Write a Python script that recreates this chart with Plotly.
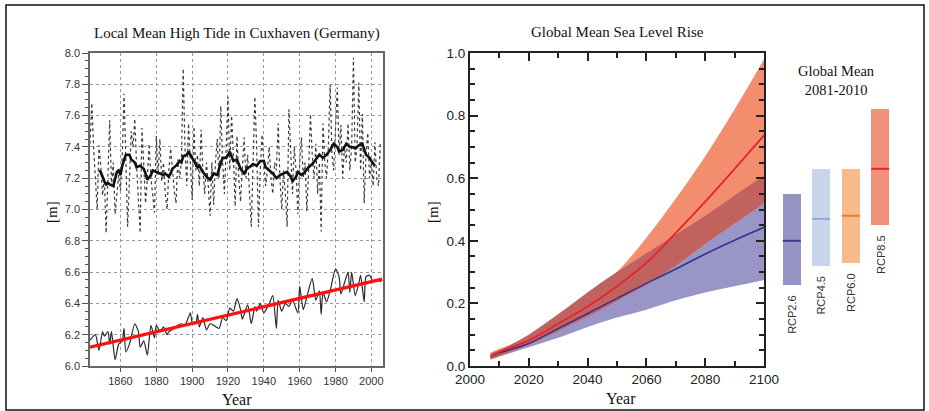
import plotly.graph_objects as go

# ---------------- Cuxhaven tide gauge (left panel) ----------------
mhw_years = list(range(1843, 2006))
mhw_values = [
    7.42, 7.68, 7.40, 7.15, 7.00, 7.41, 7.28, 7.09, 7.20, 6.85,
    7.25, 7.57, 7.15, 7.30, 6.97, 7.10, 7.22, 7.12, 7.35, 7.74,
    7.30, 6.89, 7.18, 7.50, 7.40, 7.58, 7.28, 7.05, 6.85, 7.52,
    7.25, 7.04, 7.20, 7.42, 7.20, 7.10, 6.98, 7.47, 7.22, 7.45,
    7.18, 7.30, 7.10, 7.00, 7.25, 7.39, 7.23, 7.12, 7.04, 7.32,
    7.20, 7.30, 7.90, 7.40, 7.15, 7.55, 7.30, 7.06, 7.53, 7.25,
    7.35, 7.15, 7.51, 7.25, 7.10, 7.30, 7.15, 6.96, 7.30, 7.03,
    7.30, 7.45, 7.20, 7.66, 7.30, 7.10, 7.40, 7.72, 7.25, 7.60,
    7.35, 7.02, 7.47, 7.20, 7.05, 7.30, 7.46, 7.20, 7.35, 7.10,
    6.89, 7.30, 7.72, 7.40, 6.89, 7.25, 7.48, 7.30, 7.15, 7.25,
    7.40, 7.20, 7.10, 7.30, 7.25, 7.55, 7.20, 7.00, 7.25, 7.10,
    6.89, 7.64, 7.30, 7.10, 7.40, 7.25, 6.97, 7.30, 7.46, 7.20,
    7.30, 6.99, 7.25, 7.61, 7.35, 7.20, 7.42, 7.10, 7.30, 6.86,
    7.55, 7.30, 7.20, 7.40, 7.80, 7.35, 7.25, 7.55, 7.78, 7.35,
    7.54, 7.20, 7.40, 7.30, 7.55, 7.25, 7.40, 7.97, 7.30, 7.40,
    7.81, 7.25, 7.61, 7.04, 7.35, 7.49, 7.20, 7.30, 7.15, 7.43,
    7.20, 7.15, 7.43,
]

mean_years = [
    1848, 1849, 1851, 1852, 1853, 1854, 1856, 1857, 1858, 1859, 1860, 1861,
    1863, 1865, 1866, 1868, 1869, 1871, 1873, 1874, 1875, 1877, 1878, 1880,
    1882, 1884, 1885, 1887, 1888, 1889, 1891, 1893, 1894, 1895, 1897, 1898,
    1899, 1901, 1903, 1904, 1906, 1908, 1910, 1912, 1914, 1915, 1917, 1919,
    1921, 1923, 1925, 1927, 1929, 1931, 1932, 1934, 1936, 1938, 1940, 1941,
    1943, 1945, 1947, 1949, 1951, 1953, 1955, 1956, 1958, 1959, 1961, 1963,
    1965, 1967, 1969, 1971, 1973, 1975, 1977, 1979, 1981, 1982, 1984, 1986,
    1988, 1989, 1991, 1993, 1995, 1997, 1999, 2000, 2002,
]
mean_values = [
    7.25, 7.24, 7.18, 7.16, 7.17, 7.16, 7.15, 7.19, 7.24, 7.25, 7.22, 7.28,
    7.35, 7.35, 7.32, 7.30, 7.27, 7.28, 7.26, 7.23, 7.19, 7.22, 7.25, 7.24,
    7.23, 7.22, 7.23, 7.21, 7.23, 7.26, 7.28, 7.31, 7.30, 7.34, 7.35, 7.37,
    7.35, 7.31, 7.27, 7.28, 7.24, 7.21, 7.19, 7.23, 7.22, 7.26, 7.33, 7.33,
    7.37, 7.31, 7.32, 7.26, 7.23, 7.27, 7.27, 7.29, 7.28, 7.31, 7.31, 7.27,
    7.25, 7.23, 7.20, 7.22, 7.23, 7.24, 7.21, 7.18, 7.21, 7.24, 7.22, 7.24,
    7.27, 7.29, 7.32, 7.35, 7.33, 7.35, 7.38, 7.42, 7.40, 7.37, 7.38, 7.42,
    7.40, 7.40, 7.39, 7.41, 7.42, 7.35, 7.33, 7.31, 7.28,
]

msl_years = [
    1843, 1846, 1848, 1850, 1851, 1853, 1854, 1855, 1857, 1859, 1861, 1862,
    1863, 1865, 1868, 1870, 1871, 1873, 1875, 1877, 1879, 1880, 1882, 1884,
    1886, 1887, 1890, 1892, 1894, 1896, 1899, 1900, 1902, 1903, 1904, 1906,
    1908, 1910, 1912, 1915, 1917, 1919, 1921, 1923, 1925, 1927, 1928, 1931,
    1933, 1935, 1936, 1938, 1940, 1943, 1945, 1947, 1948, 1950, 1952, 1954,
    1956, 1959, 1960, 1962, 1964, 1967, 1969, 1971, 1972, 1973, 1975, 1977,
    1980, 1982, 1983, 1985, 1987, 1988, 1989, 1991, 1993, 1994, 1996, 1997,
    1999, 2001, 2003, 2005, 2006,
]
msl_values = [
    6.165, 6.20, 6.10, 6.22, 6.19, 6.22, 6.14, 6.22, 6.04, 6.14, 6.16, 6.24,
    6.09, 6.14, 6.27, 6.22, 6.12, 6.16, 6.07, 6.26, 6.18, 6.26, 6.22, 6.25,
    6.20, 6.22, 6.24, 6.26, 6.27, 6.26, 6.34, 6.28, 6.27, 6.33, 6.25, 6.31,
    6.23, 6.27, 6.26, 6.24, 6.31, 6.29, 6.37, 6.35, 6.43, 6.36, 6.30, 6.39,
    6.27, 6.38, 6.35, 6.40, 6.34, 6.40, 6.45, 6.24, 6.42, 6.35, 6.40, 6.38,
    6.42, 6.34, 6.51, 6.36, 6.44, 6.56, 6.42, 6.48, 6.33, 6.47, 6.41, 6.48,
    6.62, 6.57, 6.46, 6.53, 6.60, 6.47, 6.60, 6.45, 6.53, 6.58, 6.41, 6.57,
    6.58, 6.54, 6.55, 6.54, 6.55,
]

trend_years = [1843, 2006]
trend_values = [6.12, 6.555]

# ---------------- Global mean sea level projections (right panel) ----------------
proj_years = [2007, 2010, 2020, 2030, 2040, 2050, 2060, 2070, 2080, 2090, 2100]
rcp85_mid = [0.03, 0.045, 0.082, 0.135, 0.19, 0.255, 0.33, 0.425, 0.525, 0.63, 0.737]
rcp85_hi = [0.042, 0.055, 0.09, 0.148, 0.218, 0.30, 0.41, 0.535, 0.67, 0.82, 0.98]
rcp85_lo = [0.022, 0.032, 0.068, 0.112, 0.158, 0.208, 0.26, 0.32, 0.39, 0.455, 0.52]
rcp26_mid = [0.03, 0.042, 0.072, 0.12, 0.168, 0.216, 0.264, 0.31, 0.358, 0.402, 0.443]
rcp26_hi = [0.04, 0.05, 0.10, 0.165, 0.235, 0.30, 0.36, 0.42, 0.48, 0.545, 0.608]
rcp26_lo = [0.02, 0.03, 0.06, 0.09, 0.125, 0.155, 0.18, 0.21, 0.235, 0.255, 0.275]

# Likely ranges of global mean rise for 2081-2100, per scenario
scenarios = ["RCP2.6", "RCP4.5", "RCP6.0", "RCP8.5"]
range_mid = [0.40, 0.47, 0.48, 0.63]
range_lo = [0.26, 0.32, 0.33, 0.45]
range_hi = [0.55, 0.63, 0.63, 0.82]
bar_colors = ["#9792c4", "#c9d5eb", "#f8ba8c", "#f2917a"]
mid_colors = ["#3d3b8f", "#8eabdc", "#ee7b2b", "#e3262a"]

W, H = 929, 411


def px(x):
    return x / W


def py(y):
    return 1 - y / H


fig = go.Figure()

# left panel series
fig.add_trace(go.Scatter(x=mhw_years, y=mhw_values, mode="lines",
                         line=dict(color="#3a3a3a", width=1.2, dash="dot"),
                         xaxis="x", yaxis="y", showlegend=False))
fig.add_trace(go.Scatter(x=mean_years, y=mean_values, mode="lines",
                         line=dict(color="#111111", width=2.6),
                         xaxis="x", yaxis="y", showlegend=False))
fig.add_trace(go.Scatter(x=msl_years, y=msl_values, mode="lines",
                         line=dict(color="#2a2a2a", width=1.2, shape="spline", smoothing=0.6),
                         xaxis="x", yaxis="y", showlegend=False))
fig.add_trace(go.Scatter(x=trend_years, y=trend_values, mode="lines",
                         line=dict(color="#ff1010", width=3.2),
                         xaxis="x", yaxis="y", showlegend=False))

# right panel bands
purple = "#9a95c7"
salmon = "#f28e6e"
overlap = "#c2625f"


def band(lo, hi, color):
    fig.add_trace(go.Scatter(x=proj_years, y=lo, mode="lines",
                             line=dict(width=0, shape="spline"),
                             xaxis="x2", yaxis="y2", showlegend=False, hoverinfo="skip"))
    fig.add_trace(go.Scatter(x=proj_years, y=hi, mode="lines", fill="tonexty",
                             fillcolor=color, line=dict(width=0, shape="spline"),
                             xaxis="x2", yaxis="y2", showlegend=False, hoverinfo="skip"))


band(rcp26_lo, rcp26_hi, purple)
band(rcp85_lo, rcp85_hi, salmon)
band(rcp85_lo, rcp26_hi, overlap)

fig.add_trace(go.Scatter(x=proj_years, y=rcp26_mid, mode="lines",
                         line=dict(color="#35358f", width=1.6, shape="spline"),
                         xaxis="x2", yaxis="y2", showlegend=False))
fig.add_trace(go.Scatter(x=proj_years, y=rcp85_mid, mode="lines",
                         line=dict(color="#e8242a", width=1.8, shape="spline"),
                         xaxis="x2", yaxis="y2", showlegend=False))

# scenario range bars
idx = list(range(len(scenarios)))
fig.add_trace(go.Bar(x=idx, y=[h - l for h, l in zip(range_hi, range_lo)], base=range_lo,
                     marker=dict(color=bar_colors, line=dict(width=0)), width=0.61,
                     xaxis="x3", yaxis="y2", showlegend=False))
for i, (m, c) in enumerate(zip(range_mid, mid_colors)):
    fig.add_trace(go.Scatter(x=[i - 0.305, i + 0.305], y=[m, m], mode="lines",
                             line=dict(color=c, width=2), xaxis="x3", yaxis="y2",
                             showlegend=False))

annotations = []
for i, (name, lo) in enumerate(zip(scenarios, range_lo)):
    annotations.append(dict(x=i, y=lo, xref="x3", yref="y2", text=name, showarrow=False,
                            textangle=-90, xanchor="center", yanchor="top", yshift=-8,
                            font=dict(family="Liberation Sans, Arial", size=11, color="#333333")))

serif = "Liberation Serif, Times New Roman, serif"
sans = "Liberation Sans, Arial, sans-serif"


def label(text, x, y, size, angle=0):
    annotations.append(dict(x=px(x), y=py(y), xref="paper", yref="paper", text=text,
                            showarrow=False, xanchor="center", yanchor="middle",
                            textangle=angle, font=dict(family=serif, size=size, color="#111111")))


label("Local Mean High Tide in Cuxhaven (Germany)", 237, 33, 15)
label("Year", 237, 399, 16)
label("[m]", 52, 212, 15, -90)
label("Global Mean Sea Level Rise", 617, 32, 15)
label("Year", 621, 398, 16)
label("[m]", 433, 212, 15, -90)
label("Global Mean<br>2081-2010", 836, 81, 14.5)

fig.update_layout(
    width=W, height=H, margin=dict(l=0, r=0, t=0, b=0),
    paper_bgcolor="white", plot_bgcolor="white",
    annotations=annotations, bargap=0,
    shapes=[dict(type="rect", xref="paper", yref="paper", x0=px(6), x1=px(924),
                 y0=py(410), y1=py(5), line=dict(color="#111111", width=1.5))],
    xaxis=dict(domain=[px(90), px(383)], range=[1843, 2006.5], anchor="y",
               automargin=False,
               tickvals=list(range(1860, 2001, 20)), ticks="outside", ticklen=4,
               tickcolor="#555555", showline=True, linecolor="#666666", linewidth=1.5,
               mirror=True, showgrid=True, gridcolor="#9a9a9a", griddash="dot",
               gridwidth=1, zeroline=False,
               tickfont=dict(family=sans, size=11, color="#333333")),
    yaxis=dict(domain=[py(366), py(53)], range=[6.0, 8.0], anchor="x",
               automargin=False,
               dtick=0.2, tickformat=".1f", ticks="outside", ticklen=6,
               tickcolor="#555555", showline=True, linecolor="#666666", linewidth=1.5,
               mirror=True, showgrid=True, gridcolor="#9a9a9a", griddash="dot",
               gridwidth=1, zeroline=False,
               minor=dict(dtick=0.05, ticks="outside", ticklen=3, tickcolor="#555555",
                          showgrid=False),
               tickfont=dict(family=sans, size=11, color="#333333")),
    xaxis2=dict(domain=[px(470), px(764)], range=[2000, 2100], anchor="y2",
                automargin=False,
                dtick=20, ticks="inside", ticklen=8, tickwidth=1.5, tickcolor="#222222",
                showline=True, linecolor="#222222", linewidth=2, mirror="ticks",
                showgrid=False, zeroline=False,
                minor=dict(dtick=10, ticks="inside", ticklen=5, tickcolor="#222222"),
                tickfont=dict(family=sans, size=13.5, color="#222222")),
    yaxis2=dict(domain=[py(366), py(53)], range=[0, 1.0], anchor="x2",
                automargin=False,
                dtick=0.2, tickformat=".1f", ticks="inside", ticklen=8, tickwidth=1.5,
                tickcolor="#222222", showline=True, linecolor="#222222", linewidth=2,
                mirror="ticks", showgrid=False, zeroline=False,
                minor=dict(dtick=0.05, ticks="inside", ticklen=5, tickcolor="#222222"),
                tickfont=dict(family=sans, size=13.5, color="#222222")),
    xaxis3=dict(domain=[px(777), px(895)], range=[-0.5, 3.5], anchor="y2",
                automargin=False,
                visible=False, showgrid=False, zeroline=False),
)

fig.write_html("out.html")
